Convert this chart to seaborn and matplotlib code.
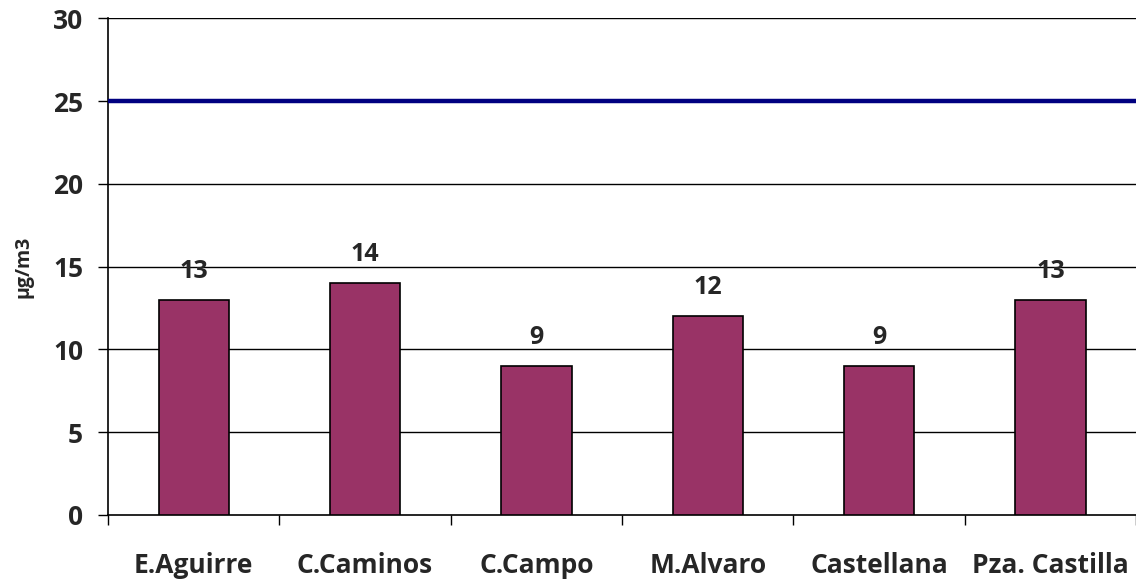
import numpy as np
import pandas as pd
import seaborn as sns
from matplotlib import pyplot as plt
from matplotlib.ticker import FixedLocator

stations = ["E.Aguirre", "C.Caminos", "C.Campo", "M.Alvaro", "Castellana", "Pza. Castilla"]
values = [13, 14, 9, 12, 9, 13]
limit_value = 25
y_ticks = [0, 5, 10, 15, 20, 25, 30]

sns.set_style("white")
plt.rcParams['font.family'] = ['Open Sans', 'DejaVu Sans']

df = pd.DataFrame({"Estacion": stations, "Valor": values})

fig = plt.figure(figsize=(11.36, 5.81), dpi=100)
ax = fig.add_axes([0.0951, 0.1136, 0.905, 0.855])

sns.barplot(data=df, x="Estacion", y="Valor", color="#993366", saturation=1,
            width=0.41, edgecolor="black", linewidth=1.2, ax=ax, zorder=3)

# gridlines
for t in y_ticks[1:]:
    ax.axhline(t, color="black", lw=1, zorder=1)
ax.axhline(limit_value, color="#000080", lw=3.2, zorder=4)

for i, v in enumerate(values):
    ax.annotate(str(v), (i, v), xytext=(0, 16), textcoords="offset points",
                ha="center", va="baseline", fontsize=18, fontweight="bold")

ax.set_ylim(0, 30)
ax.set_xlim(-0.5, len(stations) - 0.5)
ax.set_yticks(y_ticks)
ax.xaxis.set_minor_locator(FixedLocator(np.arange(-0.5, len(stations), 1.0)))
ax.tick_params(axis="x", which="major", length=0, pad=27, labelsize=19)
ax.tick_params(axis="x", which="minor", length=7, width=1, direction="out", color="black", bottom=True)
ax.tick_params(axis="y", length=7, width=1, direction="out", color="black", left=True, labelsize=19, pad=11)
for lab in ax.get_xticklabels() + ax.get_yticklabels():
    lab.set_fontweight("bold")

ax.set_xlabel("")
ax.set_ylabel("µg/m3", fontsize=14, fontweight="bold", labelpad=14)

for s in ["top", "right"]:
    ax.spines[s].set_visible(False)
for s in ["left", "bottom"]:
    ax.spines[s].set_color("black")
    ax.spines[s].set_linewidth(1.2)

plt.savefig("out.png", dpi=100)
